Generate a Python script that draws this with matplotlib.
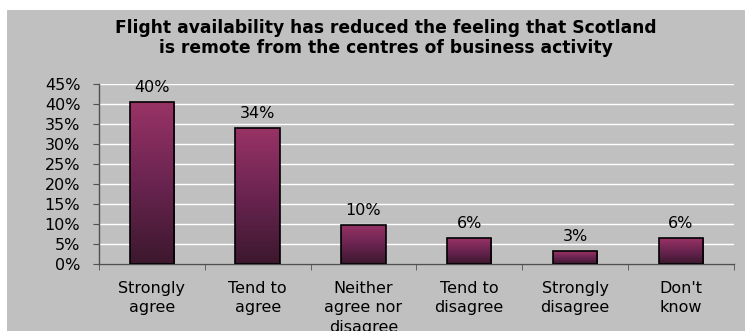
import numpy as np
import matplotlib.pyplot as plt
from matplotlib.colors import LinearSegmentedColormap
from matplotlib.patches import Rectangle

plt.rcParams['font.family'] = ['DejaVu Sans']

categories = ['Strongly\nagree', 'Tend to\nagree', 'Neither\nagree nor\ndisagree',
              'Tend to\ndisagree', 'Strongly\ndisagree', "Don't\nknow"]
shares = [40.4, 34.1, 9.8, 6.4, 3.2, 6.4]
y_ticks = [0, 5, 10, 15, 20, 25, 30, 35, 40, 45]
title = ('Flight availability has reduced the feeling that Scotland\n'
         'is remote from the centres of business activity')

bg = '#c0c0c0'
fig = plt.figure(figsize=(7.45, 3.31), dpi=100, facecolor='white')
# grey chart area, leaving a thin white strip on the top and left
fig.patches.append(Rectangle((7 / 745, 0), 1, 1 - 10 / 331, transform=fig.transFigure,
                             facecolor=bg, edgecolor='none', zorder=-5))

ax = fig.add_axes([99 / 745, 1 - 264 / 331, 634.7 / 745, 180 / 331])
ax.set_facecolor(bg)

x = np.arange(len(categories))
width = 0.42
grad = LinearSegmentedColormap.from_list('bar', ['#3c182e', '#6a2450', '#993366'])
ramp = np.linspace(0, 1, 256).reshape(-1, 1)

bars = ax.bar(x, shares, width=width, facecolor='none', edgecolor='black',
              linewidth=1.2, zorder=3)
for b, v in zip(bars, shares):
    x0, w, h = b.get_x(), b.get_width(), b.get_height()
    im = ax.imshow(ramp, cmap=grad, origin='lower', aspect='auto',
                   extent=(x0, x0 + w, 0, h), zorder=2)
    im.set_clip_path(b)
    ax.annotate(f'{v:.0f}%', (b.get_x() + w / 2, h), xytext=(0, 5),
                textcoords='offset points', ha='center', va='bottom', fontsize=11.5)

ax.set_xlim(-0.5, len(categories) - 0.5)
ax.set_ylim(0, 45)
ax.set_yticks(y_ticks)
ax.set_yticklabels([f'{t}%' for t in y_ticks], fontsize=11.5)
ax.yaxis.grid(True, color='white', linewidth=1)
ax.set_axisbelow(True)

ax.set_xticks(x)
ax.set_xticklabels(categories, fontsize=11.5, linespacing=1.38)
ax.set_xticks(np.arange(len(categories) + 1) - 0.5, minor=True)
ax.tick_params(axis='x', which='major', length=0, pad=12)
ax.tick_params(axis='x', which='minor', length=4.5, color='#505050')
ax.tick_params(axis='y', length=4.5, color='#505050', pad=9)

for side in ('top', 'right'):
    ax.spines[side].set_visible(False)
for side in ('left', 'bottom'):
    ax.spines[side].set_color('#505050')
    ax.spines[side].set_linewidth(1)

fig.text(386 / 745, 1 - 38 / 331, title, ha='center', va='center', fontsize=12.3,
         fontweight='bold', linespacing=1.2)

fig.savefig('out.png', dpi=100, facecolor='white')
